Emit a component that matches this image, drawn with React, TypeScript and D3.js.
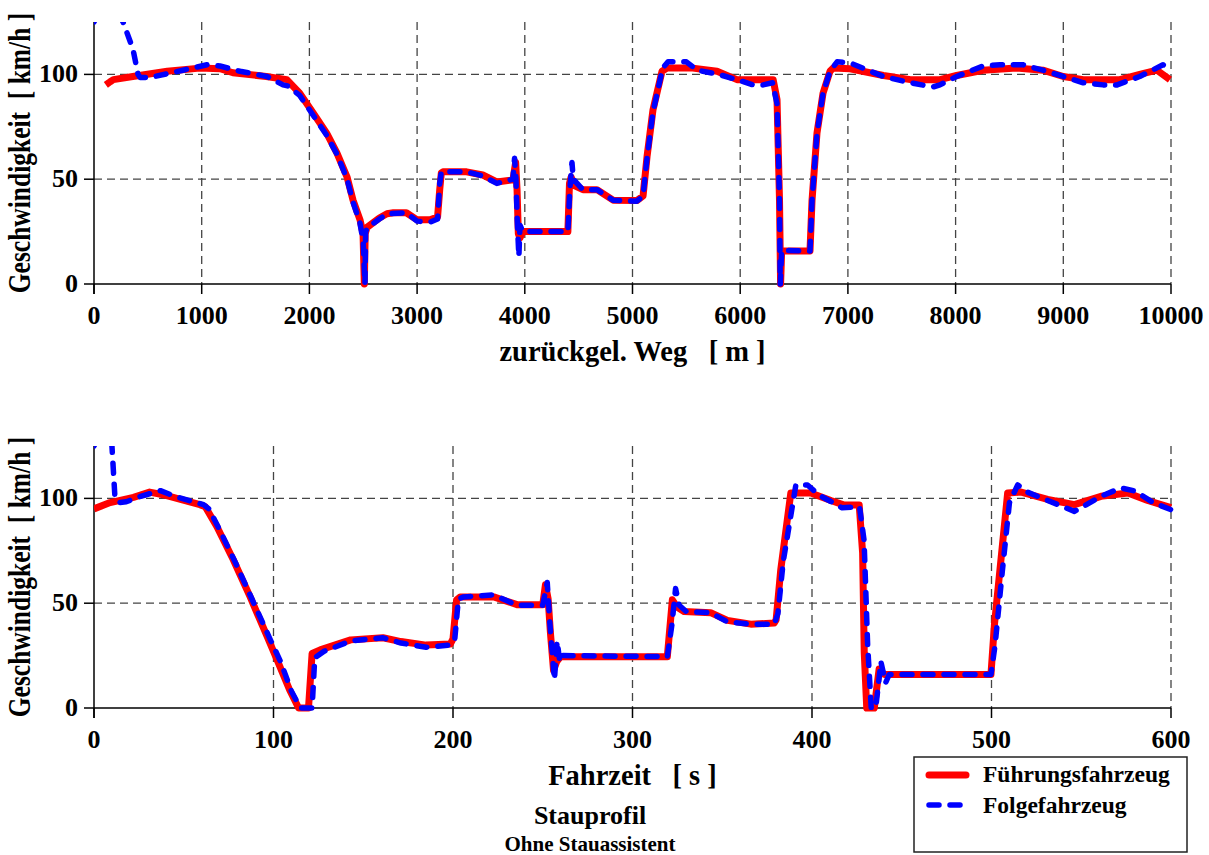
import * as d3 from "d3";

// Oben: Geschwindigkeit über zurückgelegtem Weg
const wegFuehrung = [110, 150, 180, 360, 680, 980, 1170, 1290, 1600, 1790, 1910, 2035, 2160, 2255, 2350, 2405, 2470, 2498, 2510, 2518, 2535, 2650, 2720, 2780, 2900, 3000, 3120, 3190, 3210, 3225, 3240, 3460, 3610, 3740, 3890, 3915, 3928, 3940, 3955, 3983, 4400, 4415, 4430, 4460, 4540, 4670, 4820, 5040, 5098, 5135, 5190, 5274, 5320, 5560, 5785, 5970, 6306, 6342, 6365, 6375, 6385, 6648, 6667, 6713, 6769, 6834, 6862, 7020, 7330, 7580, 7855, 8010, 8255, 8565, 8810, 9000, 9185, 9525, 9710, 9870, 9990];
const vWegFuehrung = [95, 96.5, 97.5, 99, 101.5, 103, 102.7, 100.8, 99, 97.5, 91, 81.6, 72, 62.6, 51, 40, 30.6, 24, 0, 24, 27, 31.5, 33.5, 34, 34, 30.6, 30.6, 32, 45, 53, 53.5, 53.5, 52, 48.7, 49.7, 58, 45, 24, 22, 25, 25, 48, 51, 47, 45, 45, 40, 39.8, 42, 60.8, 83, 101.5, 103, 103, 101.5, 97.5, 97.5, 88, 40, 0, 15.8, 15.8, 40, 72, 91, 101.5, 103, 102.7, 99.5, 97.5, 97.5, 99.5, 102, 103, 102, 99, 97.5, 97.5, 100, 102, 97.5];

const wegFolge = [0, 50, 150, 270, 362, 409, 430, 520, 826, 1050, 1170, 1356, 1606, 1755, 1800, 1910, 2035, 2160, 2255, 2350, 2405, 2470, 2500, 2516, 2522, 2540, 2650, 2720, 2900, 3000, 3120, 3190, 3210, 3225, 3460, 3610, 3740, 3890, 3905, 3918, 3930, 3945, 3955, 3983, 4400, 4418, 4438, 4450, 4540, 4670, 4820, 5040, 5098, 5135, 5190, 5280, 5330, 5500, 5600, 5800, 6000, 6120, 6212, 6300, 6342, 6365, 6372, 6385, 6648, 6667, 6713, 6769, 6834, 6900, 7020, 7330, 7580, 7790, 7855, 8010, 8255, 8412, 8626, 8810, 9000, 9185, 9369, 9500, 9710, 9926, 9991];
const vWegFolge = [125, 130, 135, 125, 112, 100, 98.5, 98.5, 102, 104.6, 104, 101.5, 99, 95, 94.5, 90, 80.5, 71, 62, 50, 39, 29, 20, 0, 25, 27, 31, 33.5, 34, 30, 29.5, 31, 48, 53.5, 53.5, 51.5, 48, 50, 60, 50, 30, 13, 28, 25, 25, 45, 58, 50, 45, 45, 40, 39.5, 42, 60, 82, 103, 106, 106, 102, 100, 97, 95, 95, 96, 86, 40, 0, 16, 15.8, 40, 72, 91, 101.5, 106, 105.5, 99, 96, 94, 95, 99, 104, 104.6, 104.6, 102, 99, 96, 95, 95, 99, 104.6, 102];

// Unten: Geschwindigkeit über Fahrzeit
const zeitFuehrung = [0, 9, 22, 31, 40, 59, 62, 68.5, 77.6, 87, 96.5, 102, 109, 114, 119.5, 121.5, 126, 143, 161, 171, 185, 198.5, 200, 202, 204, 222.7, 235.7, 250, 251.5, 253, 254.3, 256, 257.8, 260, 319.4, 322.2, 325, 328.7, 343.5, 352.9, 365.9, 378.9, 380, 382.6, 388.2, 399.3, 410.5, 418, 426.3, 428.2, 429.1, 430.5, 434.7, 437.4, 440.2, 499.7, 501.6, 505.3, 509, 516.5, 531.3, 546.2, 561, 576, 587, 600];
const vZeitFuehrung = [95, 98, 100.5, 103, 101.5, 97, 96, 86.5, 70.7, 53, 34, 23, 8.6, 0, 0, 26, 27.7, 32.5, 33.5, 31.7, 30, 30.5, 33, 51.6, 53, 53, 49.3, 49.3, 58.8, 52, 35.6, 18, 22.2, 24.5, 24.5, 51.6, 48, 46, 45.5, 41.8, 40, 40.5, 42, 66, 102.6, 102.6, 99, 96.8, 96.8, 74, 26.5, 0, 0, 18.6, 16, 16, 39.4, 71, 102.6, 103, 99.5, 97, 101, 102.6, 99, 95.6];

const zeitFolge = [0, 3, 6, 10, 11.7, 14, 18, 26, 37, 45, 61, 64, 70, 79, 88, 98, 104, 110, 115, 121.5, 123, 128, 143, 161, 171, 185, 198.5, 201, 203, 206, 222.7, 235.7, 250, 252.5, 254, 256.5, 258, 259.5, 261, 319.4, 322, 324, 326, 330, 343.5, 353, 366, 379, 381, 384, 391, 397.5, 404, 410.5, 416.8, 426.5, 429, 431, 433, 435.5, 438.4, 441, 443, 499.7, 502, 506, 510, 514.6, 520, 531.3, 546.2, 561, 572, 580, 590, 600];
const vZeitFolge = [125, 130, 135, 125, 100, 98, 98.4, 101, 103.7, 101, 97, 95, 85, 69, 52, 33, 22, 8, 0, 0, 24, 27, 32, 33.5, 31, 29, 30, 33, 52, 53, 54, 49, 49, 59.9, 40, 13.4, 32, 22, 25, 24.5, 40, 57, 49, 46, 45.5, 41, 40, 40, 45, 70, 106.4, 106.4, 101.5, 98.5, 95.5, 96, 80, 30, 0, 0, 22, 12, 16, 16, 30, 65, 98, 106.4, 103, 99, 93.8, 101, 105, 103.5, 98, 94.6];

const tickWeg = [0, 1000, 2000, 3000, 4000, 5000, 6000, 7000, 8000, 9000, 10000];
const tickZeit = [0, 100, 200, 300, 400, 500, 600];
const tickV = [0, 50, 100];

const font = "'Liberation Serif', 'Times New Roman', serif";
const rot = "#ff0000";
const blau = "#0000ff";

type PanelProps = {
  id: string;
  top: number;
  bottom: number;
  xMax: number;
  xTicks: number[];
  xTitle: string;
  lead: [number[], number[]];
  follow: [number[], number[]];
};

const Panel = ({ id, top, bottom, xMax, xTicks, xTitle, lead, follow }: PanelProps) => {
  const x = d3.scaleLinear().domain([0, xMax]).range([94, 1171]);
  const y = d3.scaleLinear().domain([0, 125]).range([bottom, top]);
  const line = d3.line<[number, number]>().x((d) => x(d[0])).y((d) => y(d[1]));
  const pts = (s: [number[], number[]]) => s[0].map((v, i) => [v, s[1][i]] as [number, number]);

  return (
    <g>
      <defs>
        <clipPath id={id}>
          <rect x={x(0)} y={y(125)} width={x(xMax) - x(0) + 6} height={y(0) - y(125) + 4} />
        </clipPath>
      </defs>
      {/* Gitter */}
      <g stroke="#444" strokeWidth={1.3} strokeDasharray="8 5" fill="none">
        {xTicks.filter((t) => t > 0).map((t) => (
          <line key={t} x1={x(t)} x2={x(t)} y1={y(125)} y2={y(0)} />
        ))}
        {tickV.filter((t) => t > 0).map((t) => (
          <line key={t} x1={x(0)} x2={x(xMax)} y1={y(t)} y2={y(t)} />
        ))}
      </g>
      {/* Achsen */}
      <g stroke="#000" strokeWidth={1.5}>
        <line x1={x(0)} x2={x(xMax)} y1={y(0)} y2={y(0)} />
        <line x1={x(0)} x2={x(0)} y1={y(125)} y2={y(0) + 10} />
        {xTicks.map((t) => (
          <line key={t} x1={x(t)} x2={x(t)} y1={y(0)} y2={y(0) + 10} />
        ))}
        {tickV.map((t) => (
          <line key={t} x1={x(0) - 10} x2={x(0)} y1={y(t)} y2={y(t)} />
        ))}
      </g>
      <g fontFamily={font} fontWeight="bold" fontSize={26} fill="#000">
        {xTicks.map((t) => (
          <text key={t} x={x(t)} y={y(0) + 40} textAnchor="middle">{t}</text>
        ))}
        {tickV.map((t) => (
          <text key={t} x={78} y={y(t) + 8} textAnchor="end">{t}</text>
        ))}
      </g>
      <text x={(x(0) + x(xMax)) / 2} y={y(0) + 77} textAnchor="middle" fontFamily={font} fontWeight="bold" fontSize={28.5} style={{ whiteSpace: "pre" }}>
        {xTitle}
      </text>
      <g transform={`translate(30,${(y(0) + y(125)) / 2}) rotate(-90) scale(1,1.2)`}>
        <text x={0} y={0} textAnchor="middle" fontFamily={font} fontWeight="bold" fontSize={25.5} style={{ whiteSpace: "pre" }}>
          {"Geschwindigkeit  [ km/h ]"}
        </text>
      </g>
      {/* Kurven */}
      <g clipPath={`url(#${id})`} fill="none" strokeLinejoin="round">
        <path d={line(pts(lead)) ?? ""} stroke={rot} strokeWidth={7} />
        <path d={line(pts(follow)) ?? ""} stroke={blau} strokeWidth={5.5} strokeDasharray="10 11" strokeLinecap="round" />
      </g>
    </g>
  );
};

export default function App() {
  return (
    <svg width={1209} height={855} style={{ position: "absolute", left: 0, top: 0, background: "#fff" }}>
      <Panel id="clipWeg" top={22} bottom={284} xMax={10000} xTicks={tickWeg} xTitle={"zurückgel. Weg   [ m ]"} lead={[wegFuehrung, vWegFuehrung]} follow={[wegFolge, vWegFolge]} />
      <Panel id="clipZeit" top={446} bottom={708} xMax={600} xTicks={tickZeit} xTitle={"Fahrzeit   [ s ]"} lead={[zeitFuehrung, vZeitFuehrung]} follow={[zeitFolge, vZeitFolge]} />

      <g fontFamily={font} fontWeight="bold" textAnchor="middle">
        <text x={590} y={824} fontSize={26}>Stauprofil</text>
        <text x={590} y={851} fontSize={21}>Ohne Stauassistent</text>
      </g>

      <g>
        <rect x={914} y={757} width={273} height={95} fill="#fff" stroke="#222" strokeWidth={1.5} />
        <line x1={929} x2={966} y1={775} y2={775} stroke={rot} strokeWidth={7} strokeLinecap="round" />
        <line x1={929} x2={966} y1={805} y2={805} stroke={blau} strokeWidth={5.5} strokeDasharray="10 11" strokeLinecap="round" />
        <g fontFamily={font} fontWeight="bold" fontSize={23.5}>
          <text x={983} y={782}>Führungsfahrzeug</text>
          <text x={983} y={813}>Folgefahrzeug</text>
        </g>
      </g>
    </svg>
  );
}
